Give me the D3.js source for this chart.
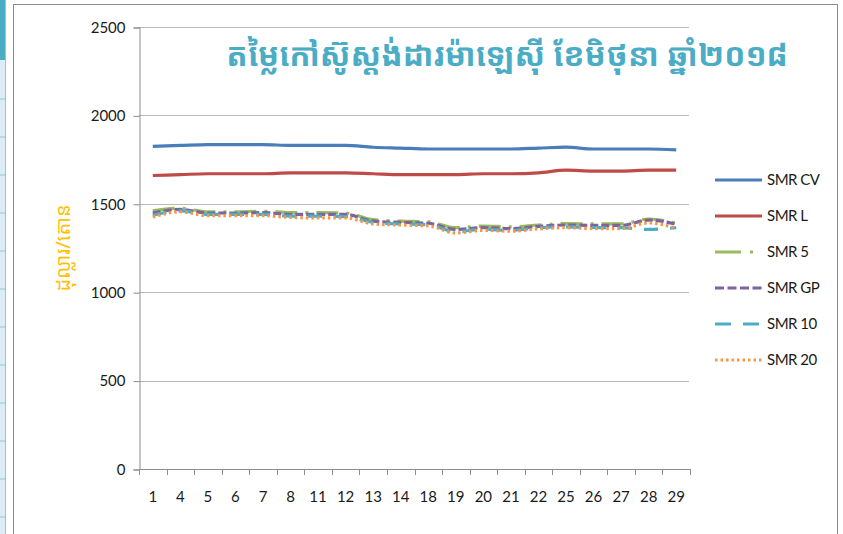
<!DOCTYPE html>
<html><head><meta charset="utf-8">
<script src="https://cdn.jsdelivr.net/npm/d3@7/dist/d3.min.js"></script>
<style>body{margin:0;background:#fff;} svg{display:block;}</style>
</head><body>
<script>
const days = ["1","4","5","6","7","8","11","12","13","14","18","19","20","21","22","25","26","27","28","29"];
const smrCV = [1825,1830,1835,1835,1835,1830,1830,1830,1820,1815,1810,1810,1810,1810,1815,1820,1810,1810,1810,1805];
const smrL  = [1660,1665,1670,1670,1670,1675,1675,1675,1670,1665,1665,1665,1670,1670,1675,1690,1685,1685,1690,1690];
const smr5  = [1460,1475,1455,1455,1458,1450,1450,1448,1410,1402,1398,1365,1374,1370,1380,1388,1386,1386,1414,1390];
const smrGP = [1448,1468,1448,1448,1450,1440,1440,1440,1402,1395,1390,1355,1365,1360,1372,1380,1378,1378,1408,1385];
const smr10 = [1435,1460,1440,1440,1440,1430,1430,1428,1395,1386,1382,1342,1356,1350,1364,1370,1366,1365,1355,1365];
const smr20 = [1425,1455,1433,1433,1433,1423,1420,1420,1386,1380,1375,1335,1350,1345,1358,1365,1360,1360,1392,1362];
const yTicks = [0,500,1000,1500,2000,2500];
const seriesNames = ["SMR CV","SMR L","SMR 5","SMR GP","SMR 10","SMR 20"];
const seriesValues = [smrCV, smrL, smr5, smrGP, smr10, smr20];
const titleText = "តម្លៃកៅស៊ូស្តង់ដារម៉ាឡេស៊ី ខែមិថុនា ឆ្នាំ២០១៨";
const yLabelText = "ដុល្លារ/តោន";

const colors = ["#4A7EBB","#BE4B48","#9BBB59","#7F63A1","#4BACC6","#F79646"];
const dashes = [null, null, "22,8,3,8", "8,3", "14,12", "2.5,3"];
const legendDash = [null, null, "26,9,3,20", "9,3.5", "16,12", "2.5,3"];

const W = 843, H = 534;
const svg = d3.select("body").append("svg").attr("width", W).attr("height", H);
const font = "Lato, 'Open Sans', 'Liberation Sans', sans-serif";
const khmer = "'Khmer OS', 'Noto Sans Khmer', 'Noto Sans', 'DejaVu Sans', sans-serif";

// spreadsheet strip at left
svg.append("rect").attr("x",0).attr("y",0).attr("width",5).attr("height",60).attr("fill","#4BACC6");
svg.append("rect").attr("x",0).attr("y",60).attr("width",5).attr("height",H-60).attr("fill","#DCEEF4");
d3.range(99, H, 38).forEach(y => svg.append("line").attr("x1",0).attr("x2",5).attr("y1",y).attr("y2",y).attr("stroke","#8FC8DA").attr("stroke-width",1));
svg.append("line").attr("x1",5.5).attr("x2",5.5).attr("y1",0).attr("y2",H).attr("stroke","#8FC8DA");

// chart border
svg.append("rect").attr("x",13.5).attr("y",4.5).attr("width",824).attr("height",H).attr("fill","#fff").attr("stroke","#8C8C8C").attr("stroke-width",1);

const x = d3.scaleBand().domain(days).range([139, 690]);
const y = d3.scaleLinear().domain([0,2500]).range([469, 27]);

// gridlines
svg.append("g").selectAll("line").data(yTicks.slice(1)).join("line")
  .attr("x1",139).attr("x2",689).attr("y1",d=>Math.round(y(d))+0.5).attr("y2",d=>Math.round(y(d))+0.5)
  .attr("stroke","#B8B8B8").attr("stroke-width",1.2);

// y axis
const yAxis = svg.append("g").attr("transform","translate(139.5,0.5)")
  .call(d3.axisLeft(y).tickValues(yTicks).tickSize(6).tickPadding(8).tickFormat(d3.format("d")));
yAxis.select(".domain").attr("stroke","#8C8C8C");
yAxis.selectAll(".tick line").attr("stroke","#8C8C8C");
yAxis.selectAll("text").attr("font-family",font).attr("font-size",15).attr("fill","#1a1a1a");

// x axis
const xAxis = svg.append("g").attr("transform","translate(0,469.5)")
  .call(d3.axisBottom(x).tickSize(0).tickPadding(22));
xAxis.select(".domain").attr("stroke","#8C8C8C").attr("d","M139,0H690");
xAxis.selectAll("text").attr("font-family",font).attr("font-size",15).attr("fill","#1a1a1a");
svg.append("g").selectAll("line").data(d3.range(days.length+1)).join("line")
  .attr("x1",i=>Math.round(139 + i*x.step())+0.5).attr("x2",i=>Math.round(139 + i*x.step())+0.5)
  .attr("y1",469).attr("y2",475).attr("stroke","#8C8C8C");

// lines
const line = d3.line().x((d,i)=>x(days[i]) + x.bandwidth()/2).y(d=>y(d)).curve(d3.curveMonotoneX);
seriesValues.forEach((vals,k)=>{
  svg.append("path").datum(vals).attr("d",line).attr("fill","none")
    .attr("stroke",colors[k]).attr("stroke-width",3.2)
    .attr("stroke-dasharray",dashes[k]).attr("stroke-linejoin","round");
});

// legend
const lg = svg.append("g");
seriesNames.forEach((n,k)=>{
  const yy = 180 + k*36;
  lg.append("line").attr("x1",715).attr("x2",762).attr("y1",yy).attr("y2",yy)
    .attr("stroke",colors[k]).attr("stroke-width",3.2).attr("stroke-dasharray",legendDash[k]);
  lg.append("text").attr("x",767).attr("y",yy+5).text(n)
    .attr("font-family",font).attr("font-size",15).attr("fill","#1a1a1a").attr("letter-spacing","-0.5");
});

// title
svg.append("text").attr("x",507).attr("y",66).attr("text-anchor","middle").text(titleText)
  .attr("font-family",khmer).attr("font-size",31.5).attr("font-weight","bold").attr("fill","#4BACC6");

// y label
svg.append("text").attr("transform","translate(70,248) rotate(-90)").attr("text-anchor","middle").text(yLabelText)
  .attr("font-family",khmer).attr("font-size",20).attr("fill","#FFC000");
</script>
</body></html>
